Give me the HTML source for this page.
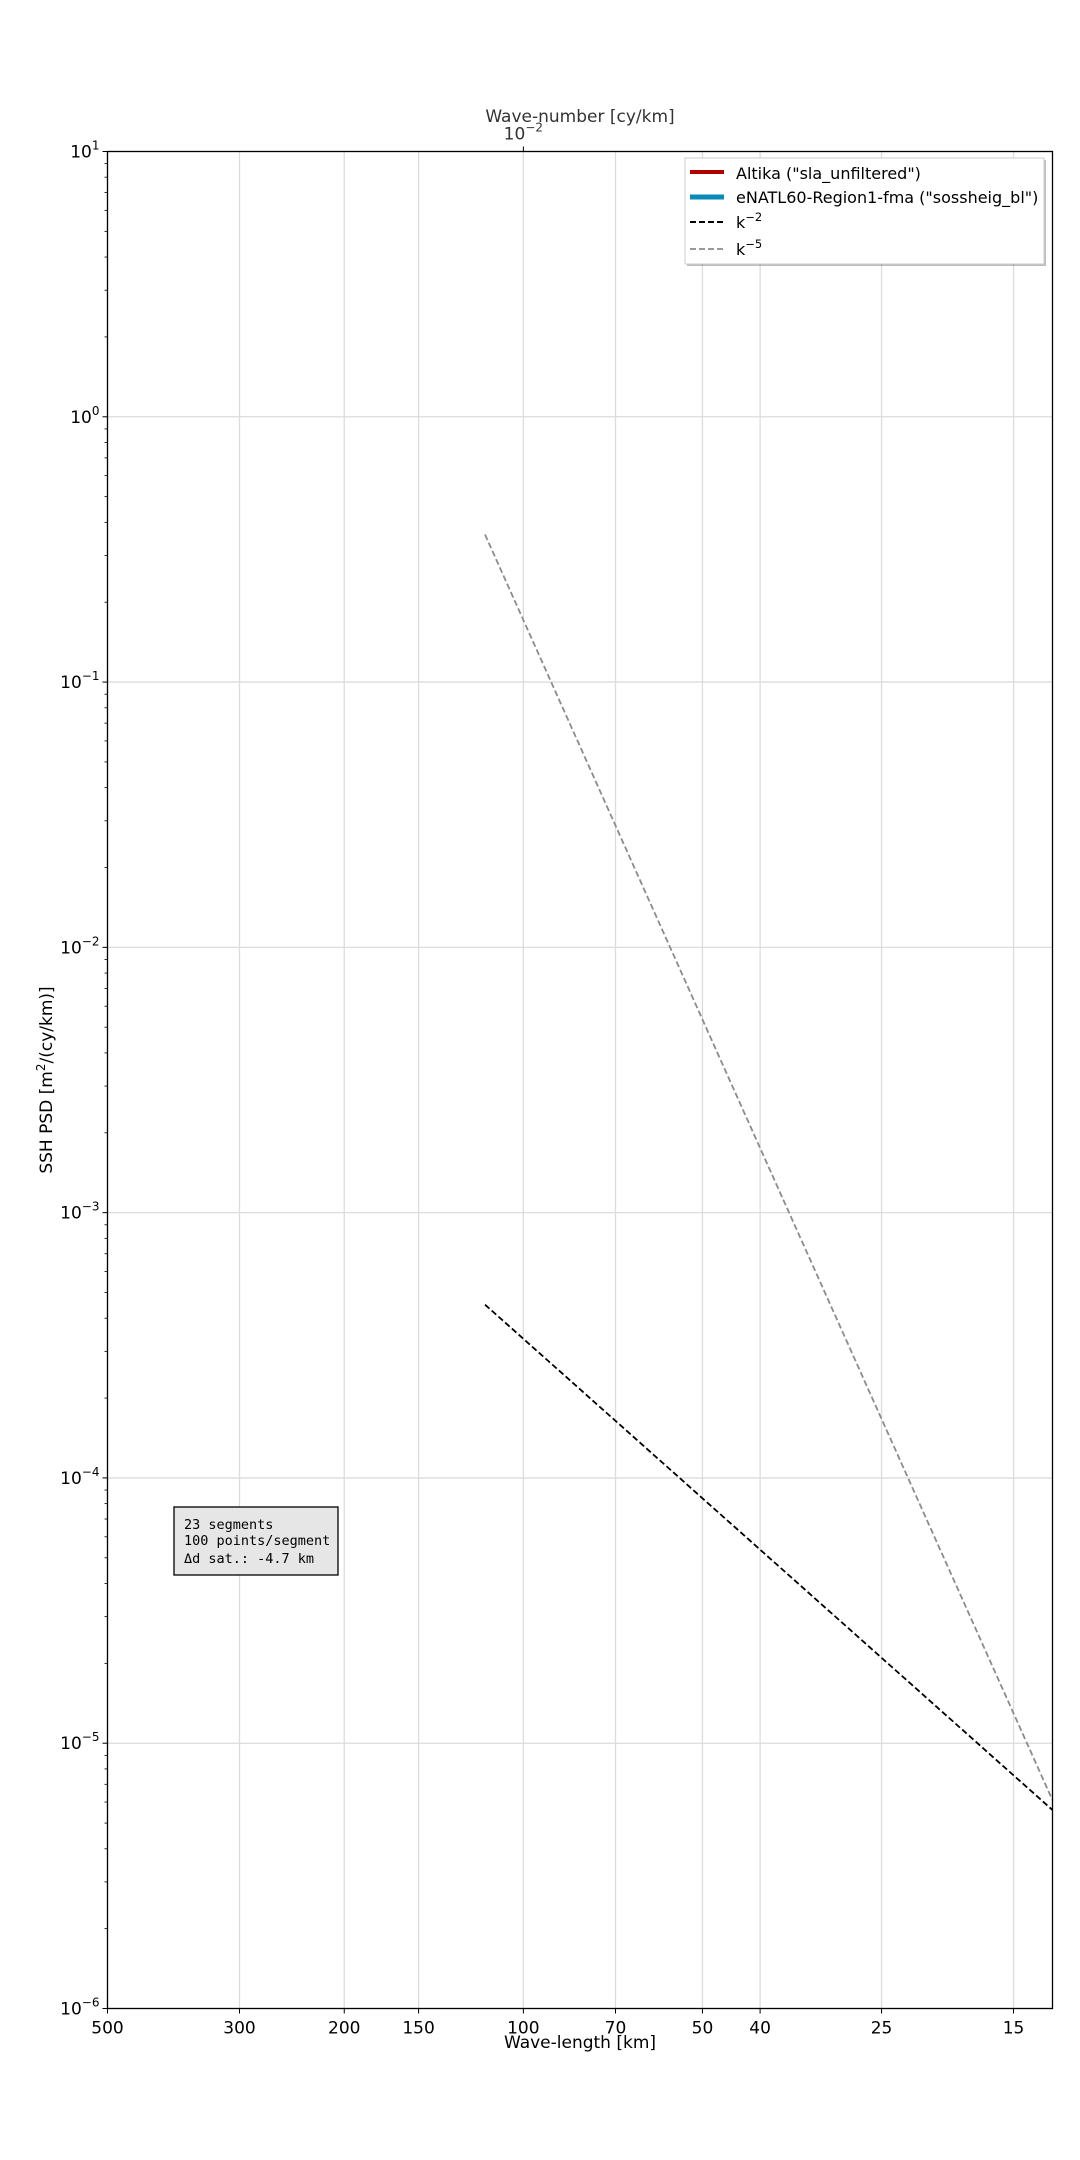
<!DOCTYPE html>
<html><head><meta charset="utf-8"><style>
body{margin:0;background:#fff;}
svg{display:block;font-family:"DejaVu Sans","Liberation Sans",sans-serif;}
</style></head><body>
<svg id="chart" width="1080" height="2160" viewBox="0 0 1080 2160" xmlns="http://www.w3.org/2000/svg"></svg>
<script>
// data
const xTickLabels = [500, 300, 200, 150, 100, 70, 50, 40, 25, 15];
const yTickExps = [1, 0, -1, -2, -3, -4, -5, -6];
const lineWavelengths = [116, 12.9];
const k2Values = [4.5e-4, 5.6e-6];
const k5Values = [0.36, 6.1e-6];

const L = 107.5, R = 1052.5, T = 151.5, B = 2008.5;
const kMin = Math.log10(1/500), kMax = Math.log10(1/12.9);
const yMax = 1, yMin = -6;
const X = lam => L + (Math.log10(1/lam) - kMin) / (kMax - kMin) * (R - L);
const Y = v => T + (yMax - Math.log10(v)) / (yMax - yMin) * (B - T);
const svg = document.getElementById('chart');
const NS = 'http://www.w3.org/2000/svg';
function mk(tag, attrs, parent) {
  const e = document.createElementNS(NS, tag);
  for (const k in attrs) e.setAttribute(k, attrs[k]);
  (parent || svg).appendChild(e);
  return e;
}
xTickLabels.forEach(l => {
  const g = mk('line', {x1: X(l), x2: X(l), y1: T, y2: B, stroke: '#dcdcdc', 'stroke-width': 1.3});
  
  
});
yTickExps.forEach(e => {
  const g = mk('line', {x1: L, x2: R, y1: Y(Math.pow(10, e)), y2: Y(Math.pow(10, e)), stroke: '#dcdcdc', 'stroke-width': 1.3});
  
  
});
yTickExps.forEach(e => {
  const y = Y(Math.pow(10, e));
  mk('line', {x1: L - 5, x2: L, y1: y, y2: y, stroke: '#000', 'stroke-width': 1});
  const t = mk('text', {x: L - 8, y: y + 6, 'text-anchor': 'end', 'font-size': 17});
  
  
  t.textContent = '10';
  const s = mk('tspan', {dy: -8, 'font-size': 12}, t);
  s.textContent = e < 0 ? '\u2212' + (-e) : String(e);
  if (e > yMin) for (let m = 2; m < 10; m++) {
    const yy = Y(m * Math.pow(10, e - 1));
    mk('line', {x1: L - 3, x2: L, y1: yy, y2: yy, stroke: '#000', 'stroke-width': 0.8});
  }
});
xTickLabels.forEach(l => {
  const x = X(l);
  mk('line', {x1: x, x2: x, y1: B, y2: B + 5, stroke: '#000', 'stroke-width': 1});
  const t = mk('text', {x: x, y: B + 25, 'text-anchor': 'middle', 'font-size': 17});
  
  
  t.textContent = l;
});
const xt = X(100);
mk('line', {x1: xt, x2: xt, y1: T - 5, y2: T, stroke: '#000', 'stroke-width': 1});
const tt = mk('text', {x: xt, y: T - 12, 'text-anchor': 'middle', 'font-size': 17, fill: '#333'});


tt.textContent = '10';
const ts = mk('tspan', {dy: -8, 'font-size': 12}, tt); ts.textContent = '\u22122';
function path(vals, color, name) {
  const d = lineWavelengths.map((l, i) => (i ? 'L' : 'M') + X(l) + ' ' + Y(vals[i])).join(' ');
  const p = mk('path', {d: d, stroke: color, 'stroke-width': 1.8, fill: 'none', 'stroke-dasharray': '6 3'});
  
  
}
path(k5Values, '#8c8c8c', 'k-minus-5-line');
path(k2Values, '#000', 'k-minus-2-line');
mk('rect', {x: L, y: T, width: R - L, height: B - T, fill: 'none', stroke: '#000', 'stroke-width': 1.3});
</script>
<svg style="position:absolute;left:0;top:0" width="1080" height="2160" xmlns="http://www.w3.org/2000/svg" font-family="DejaVu Sans, Liberation Sans, sans-serif">
  <text x="580" y="122" text-anchor="middle" font-size="17" fill="#333">Wave-number [cy/km]</text>
  <text x="580" y="2048" text-anchor="middle" font-size="17">Wave-length [km]</text>
  <text transform="translate(52,1080) rotate(-90)" text-anchor="middle" font-size="17">SSH PSD [m<tspan dy="-7" font-size="12">2</tspan><tspan dy="7">/(cy/km)]</tspan></text>
  <g>
    <rect x="687" y="160" width="359" height="106" fill="#000" opacity="0.25"/>
    <rect x="685" y="158" width="359" height="106" fill="#fff" stroke="#ccc" stroke-width="1"/>
    <line x1="690" x2="724" y1="172" y2="172" stroke="#b00000" stroke-width="4"/>
    <text x="736" y="179" font-size="16">Altika ("sla_unfiltered")</text>
    <line x1="690" x2="724" y1="197" y2="197" stroke="#0a8ab8" stroke-width="5"/>
    <text x="736" y="203" font-size="16">eNATL60-Region1-fma ("sossheig_bl")</text>
    <line x1="690" x2="724" y1="222" y2="222" stroke="#000" stroke-width="2" stroke-dasharray="6 3"/>
    <text x="736" y="228" font-size="16">k<tspan dy="-7" font-size="11.5">−2</tspan></text>
    <line x1="690" x2="724" y1="249" y2="249" stroke="#999" stroke-width="2" stroke-dasharray="6 3"/>
    <text x="736" y="255" font-size="16">k<tspan dy="-7" font-size="11.5">−5</tspan></text>
  </g>
  <g font-family="DejaVu Sans Mono, Liberation Mono, monospace" font-size="13.5">
    <rect x="174" y="1507" width="164" height="68" fill="#e6e6e6" stroke="#000" stroke-width="1.3"/>
    <text x="184" y="1529">23 segments</text>
    <text x="184" y="1545">100 points/segment</text>
    <text x="184" y="1563">Δd sat.: -4.7 km</text>
  </g>
</svg>
</body></html>
